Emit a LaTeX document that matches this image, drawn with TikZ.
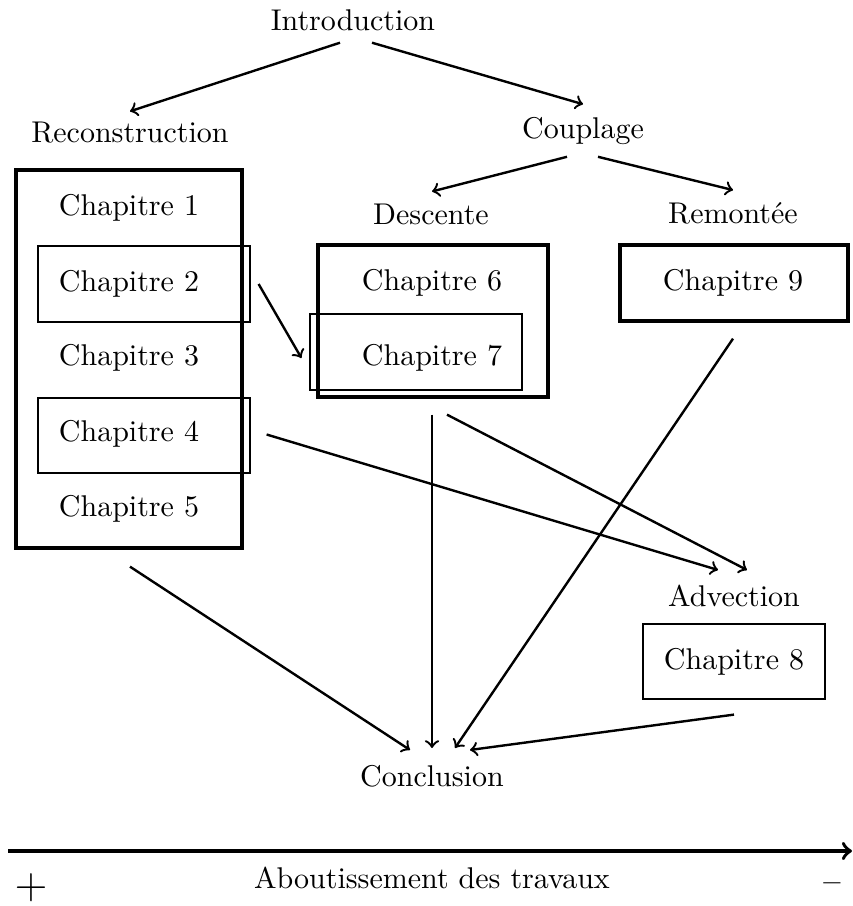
\documentclass[tikz,border=0pt]{standalone}
\usepackage{tikz}
\usetikzlibrary{fit,calc}
\tikzset{every picture/.style={line width=0.75pt}}
\tikzset{
  bigbox/.style={draw, line width=1.1pt, inner sep=0pt},
  chapbox/.style={draw, line width=0.4pt, inner sep=0pt},
  flow/.style={->, line width=0.8pt},
}

\begin{document}
\begin{tikzpicture}[x=0.3333pt,y=0.3333pt,yscale=-1,xscale=1]
\useasboundingbox (0,0) rectangle (852,906);

% Titles
\node (intro) at (353,20) {Introduction};
\node (recon) at (130,133) {Reconstruction};
\node (coupl) at (583,131) {Couplage};
\node (desc) at (431,214) {Descente};
\node (remo) at (733,213) {Remont\'ee};
\node (adv) at (734,596) {Advection};
\node (concl) at (432,776) {Conclusion};

% Boxes
\node [bigbox, fit={(16,170) (242,548)}] (recbox) {};
\node [chapbox, fit={(38,246) (250,322)}] (ch2box) {};
\node [chapbox, fit={(38,398) (250,473)}] (ch4box) {};
\node [bigbox, fit={(318,245) (548,397)}] (descbox) {};
\node [chapbox, fit={(310,314) (522,390)}] (ch7box) {};
\node [bigbox, fit={(620,245) (848,321)}] (remobox) {};
\node [chapbox, fit={(643,624) (825,699)}] (ch8box) {};

% Chapters
\node (ch1) at (129,208) {Chapitre 1};
\node (ch2) at (129,284) {Chapitre 2};
\node (ch3) at (129,358) {Chapitre 3};
\node (ch4) at (129,434) {Chapitre 4};
\node (ch5) at (129,509) {Chapitre 5};
\node (ch6) at (432,283) {Chapitre 6};
\node (ch7) at (432,358) {Chapitre 7};
\node (ch8) at (734,662) {Chapitre 8};
\node (ch9) at (733,283) {Chapitre 9};

% Arrows
\draw [flow] ($(intro.south)+(-13,1)$) -- (recon.north);
\draw [flow] ($(intro.south)+(19,1)$) -- ($(coupl.north)+(0,-2)$);
\draw [flow] ($(coupl.south)+(-16,1)$) -- ($(desc.north)+(1,-1)$);
\draw [flow] ($(coupl.south)+(15,1)$) -- ($(remo.north)+(0,-1)$);
\draw [flow] ($(ch2box.east)+(8,0)$) -- ($(ch7box.west)+(-8,6)$);
\draw [flow] ($(ch4box.east)+(16,-1)$) -- ($(adv.north)+(-16,-4)$);
\draw [flow] ($(descbox.south)+(14,16)$) -- ($(adv.north)+(13,-4)$);
\draw [flow] ($(descbox.south)+(-1,16)$) -- ($(concl.north)+(0,-6)$);
\draw [flow] ($(remobox.south)+(-1,16)$) -- ($(concl.north)+(23,-6)$);
\draw [flow] ($(recbox.south)+(1,17)$) -- ($(concl.north)+(-22,-4)$);
\draw [flow] ($(ch8box.south)+(0,15)$) -- ($(concl.north)+(38,-4)$);

% Axis
\coordinate (axstart) at (8,851);
\coordinate (axend) at (852,851);
\draw [flow, line width=1.2pt] (axstart) -- (axend);
\node (plus) at (31,888) {\Large$+$};
\node (axlabel) at (432,878) {Aboutissement des travaux};
\node (moins) at (832,887) {\textbf{--}};

\end{tikzpicture}
\end{document}
